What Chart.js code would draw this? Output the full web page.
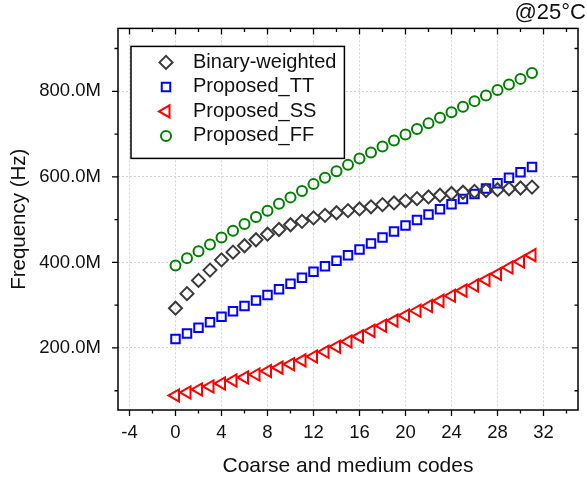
<!DOCTYPE html>
<html>
<head>
  <meta charset="utf-8">
  <title>Frequency vs codes</title>
  <script src="https://cdn.jsdelivr.net/npm/chart.js@4.4.0/dist/chart.umd.min.js"></script>
  <style>
    html, body { margin: 0; padding: 0; background: #fff; }
  </style>
</head>
<body>
  <canvas id="freq-chart" width="587" height="481"></canvas>
  <script>
    // codes on the x axis, frequencies in MHz
    var codes = [0, 1, 2, 3, 4, 5, 6, 7, 8, 9, 10, 11, 12, 13, 14, 15,
                 16, 17, 18, 19, 20, 21, 22, 23, 24, 25, 26, 27, 28, 29, 30, 31];
    var binaryWeighted = [293, 327, 358, 382, 406, 424, 439, 453, 466, 477, 488, 496, 504, 510, 516, 521,
                          525, 530, 535, 539, 544, 549, 553, 557, 561, 564, 566, 568, 570, 572, 574, 576];
    var proposedTT = [221, 234, 247, 260, 273, 286, 298, 311, 324, 337, 350, 364, 378, 391, 404, 417,
                      430, 444, 458, 472, 486, 499, 512, 524, 536, 548, 560, 573, 585, 598, 611, 623];
    var proposedSS = [89, 96, 103, 110, 117, 124, 131, 138, 146, 154, 162, 171, 180, 191, 203, 215,
                      227, 240, 252, 264, 276, 287, 298, 310, 322, 334, 346, 359, 373, 388, 402, 417];
    var proposedFF = [393, 410, 426, 442, 458, 474, 490, 506, 521, 537, 552, 567, 583, 598, 613, 628,
                      643, 657, 671, 685, 699, 712, 725, 738, 751, 764, 777, 790, 803, 816, 829, 843];
    var xTicks = [-4, -2, 0, 2, 4, 6, 8, 10, 12, 14, 16, 18, 20, 22, 24, 26, 28, 30, 32, 34];
    var yTicks = [100, 200, 300, 400, 500, 600, 700, 800, 900];

    var family = '"Liberation Sans", Arial, sans-serif';
    Chart.defaults.font.family = family;
    Chart.defaults.color = '#111';

    function majorX(v) { return v % 4 === 0; }
    function majorY(v) { return v % 200 === 0; }
    function pts(vals) {
      return codes.map(function (c, i) { return { x: c, y: vals[i] }; });
    }

    // box round the plot plus tick marks on all four sides
    var frame = {
      id: 'frame',
      afterDatasetsDraw: function (chart) {
        var ctx = chart.ctx, a = chart.chartArea;
        var xs = chart.scales.x, ys = chart.scales.y;
        ctx.save();
        ctx.strokeStyle = '#000';
        ctx.lineWidth = 1.5;
        ctx.strokeRect(a.left, a.top, a.right - a.left, a.bottom - a.top);
        ctx.lineWidth = 1.3;
        ctx.beginPath();
        xs.ticks.forEach(function (t) {
          var px = xs.getPixelForValue(t.value);
          var len = majorX(t.value) ? 6 : 3.5;
          ctx.moveTo(px, a.bottom); ctx.lineTo(px, a.bottom + len);
          ctx.moveTo(px, a.top); ctx.lineTo(px, a.top + len);
        });
        ys.ticks.forEach(function (t) {
          var py = ys.getPixelForValue(t.value);
          var len = majorY(t.value) ? 6 : 3.5;
          ctx.moveTo(a.left, py); ctx.lineTo(a.left - len, py);
          ctx.moveTo(a.right, py); ctx.lineTo(a.right - len, py);
        });
        ctx.stroke();
        ctx.restore();
      }
    };

    // legend drawn inside the plot with a border
    var boxLegend = {
      id: 'boxLegend',
      afterDraw: function (chart) {
        var ctx = chart.ctx, a = chart.chartArea;
        var x0 = a.left + 13, y0 = a.top + 18, rowH = 24.5;
        var sets = chart.data.datasets;
        ctx.save();
        ctx.font = '20px ' + family;
        var w = 0;
        sets.forEach(function (d) { w = Math.max(w, ctx.measureText(d.label).width); });
        ctx.fillStyle = '#fff';
        ctx.fillRect(x0, y0, 62 + w + 8, 112);
        ctx.strokeStyle = '#000';
        ctx.lineWidth = 1.5;
        ctx.strokeRect(x0, y0, 62 + w + 8, 112);
        sets.forEach(function (d, i) {
          var y = y0 + 16 + i * rowH;
          ctx.strokeStyle = d.borderColor;
          ctx.fillStyle = 'rgba(0,0,0,0)';
          ctx.lineWidth = d.pointBorderWidth;
          Chart.helpers.drawPoint(ctx, {
            pointStyle: d.pointStyle,
            rotation: d.pointRotation || 0,
            radius: d.pointRadius,
            borderWidth: d.pointBorderWidth
          }, x0 + 35, y);
          ctx.fillStyle = '#111';
          ctx.textBaseline = 'middle';
          ctx.textAlign = 'left';
          ctx.fillText(d.label, x0 + 62, y);
        });
        ctx.restore();
      }
    };

    function gridColor(isMajor) {
      return function (c) {
        return (c.tick && isMajor(c.tick.value)) ? '#d4d4d4' : 'rgba(0,0,0,0)';
      };
    }

    var chart = new Chart(document.getElementById('freq-chart'), {
      type: 'scatter',
      data: {
        datasets: [{
          label: 'Binary-weighted',
          data: pts(binaryWeighted),
          pointStyle: 'rectRot',
          pointRadius: 6.5,
          pointBorderWidth: 2,
          borderColor: '#3a3a3a',
          backgroundColor: 'rgba(0,0,0,0)'
        }, {
          label: 'Proposed_TT',
          data: pts(proposedTT),
          pointStyle: 'rect',
          pointRadius: 6,
          pointBorderWidth: 2,
          borderColor: '#0000ff',
          backgroundColor: 'rgba(0,0,0,0)'
        }, {
          label: 'Proposed_SS',
          data: pts(proposedSS),
          pointStyle: 'triangle',
          pointRotation: -90,
          pointRadius: 7,
          pointBorderWidth: 2,
          borderColor: '#ff0000',
          backgroundColor: 'rgba(0,0,0,0)'
        }, {
          label: 'Proposed_FF',
          data: pts(proposedFF),
          pointStyle: 'circle',
          pointRadius: 5,
          pointBorderWidth: 2,
          borderColor: '#008000',
          backgroundColor: 'rgba(0,0,0,0)'
        }]
      },
      options: {
        responsive: false,
        animation: false,
        layout: { padding: { left: 0, right: 1, top: 0, bottom: 0 } },
        plugins: {
          legend: { display: false },
          tooltip: { enabled: false },
          title: {
            display: true,
            text: '@25°C',
            align: 'end',
            color: '#111',
            font: { size: 22, weight: 'normal' },
            padding: { top: 0, bottom: 2 }
          }
        },
        scales: {
          x: {
            type: 'linear',
            min: -5,
            max: 35,
            afterBuildTicks: function (s) { s.ticks = xTicks.map(function (v) { return { value: v }; }); },
            afterFit: function (s) { s.height = 71; },
            ticks: {
              callback: function (v) { return majorX(v) ? String(v) : ''; },
              font: { size: 18.5 },
              padding: 12,
              maxRotation: 0,
              autoSkip: false
            },
            grid: { color: gridColor(majorX), drawTicks: false, lineWidth: 1 },
            border: { display: false, dash: [2, 2] },
            title: {
              display: true,
              text: 'Coarse and medium codes',
              font: { size: 21 },
              padding: { top: 0, bottom: 2 }
            }
          },
          y: {
            type: 'linear',
            min: 55,
            max: 947,
            afterBuildTicks: function (s) { s.ticks = yTicks.map(function (v) { return { value: v }; }); },
            afterFit: function (s) { s.width = 118; },
            ticks: {
              callback: function (v) { return majorY(v) ? v.toFixed(1) + 'M' : ''; },
              font: { size: 18.5 },
              padding: 17
            },
            grid: { color: gridColor(majorY), drawTicks: false, lineWidth: 1 },
            border: { display: false, dash: [2, 2] },
            title: {
              display: true,
              text: 'Frequency (Hz)',
              font: { size: 20.5 },
              padding: { top: 7, bottom: 0 }
            }
          }
        }
      },
      plugins: [frame, boxLegend]
    });
  </script>
</body>
</html>
